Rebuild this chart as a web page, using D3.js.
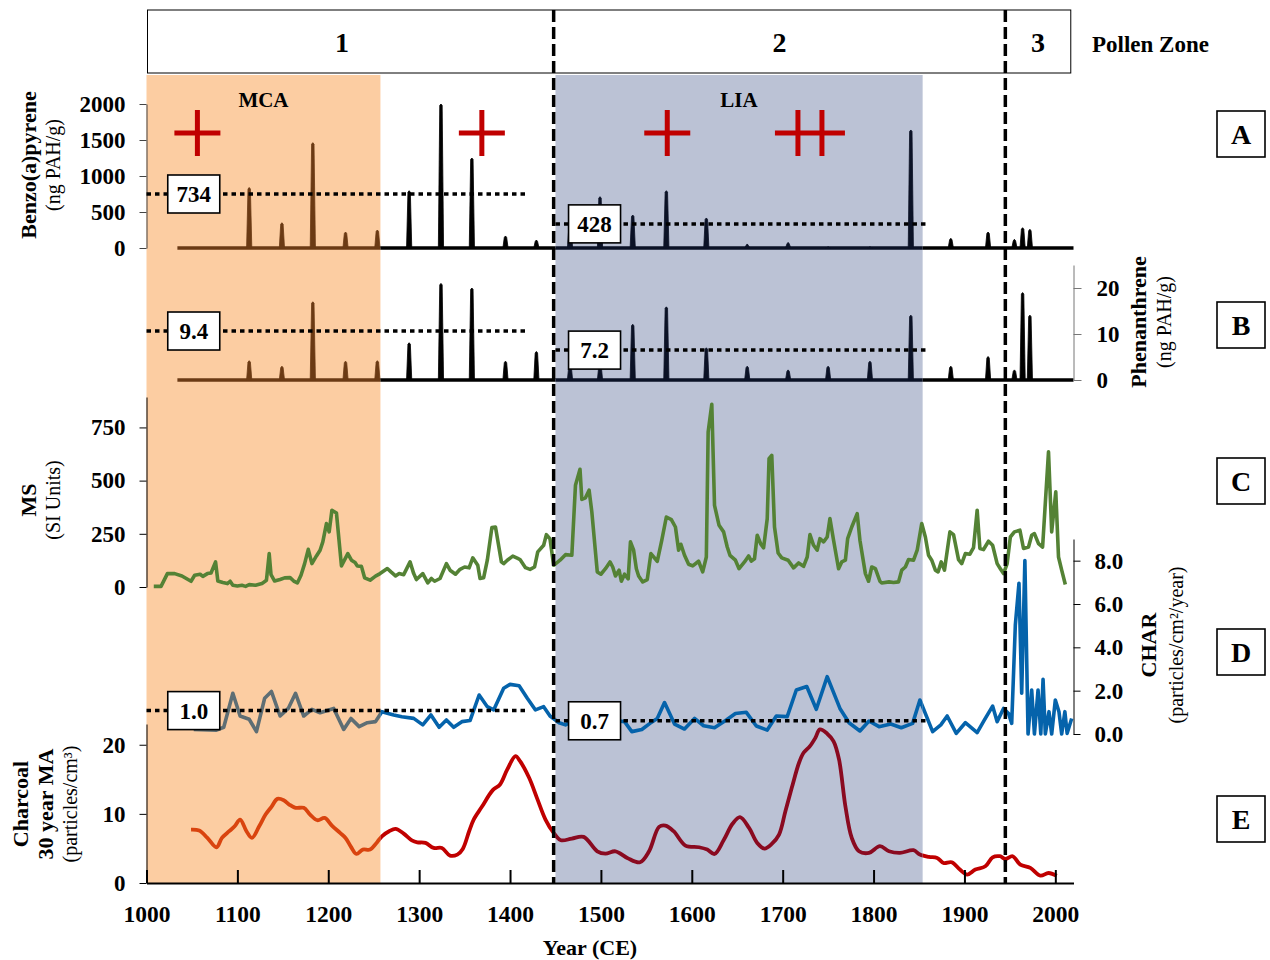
<!DOCTYPE html>
<html><head><meta charset="utf-8">
<script src="https://cdn.jsdelivr.net/npm/d3@7"></script>
<style>
body{margin:0;background:#fff}
svg{display:block}
text{font-family:"Liberation Serif","Times New Roman",serif;fill:#000}
</style>
</head><body>
<svg id="c" width="1270" height="960"></svg>
<script>
// ---------------- DATA ----------------
const zoneNames = ["1", "2", "3"];
const zoneEdges = [1000, 1448, 1945, 2017];
const periodNames = ["MCA", "LIA"];
const periodStart = [1000, 1450];
const periodEnd = [1257.4, 1854];
const crossYears = [1056, 1369, 1573, 1730];
const crossCounts = [1, 1, 1, 2];

const spikeYears = [1113,1149,1183,1219,1254,1289,1324,1358,1395,1429,1466,1499,1535,1572,1616,1661,1706,1750,1796,1841,1885,1926,1955,1964,1972];
const bapValues  = [840,351,1463,222,250,796,2000,1250,167,111,300,713,458,796,417,56,78,20,20,1639,134,222,120,282,259];
const phenValues = [4.2,3.0,17.0,4.1,4.2,8.1,21.0,20.0,4.1,6.2,3.5,3.5,12.1,15.9,7.0,3.0,2.2,3.0,4.1,14.1,3.0,5.1,2.2,19.0,14.1];
const spikeStart = 1034, spikeEnd = 2020;

const msYears = [1008,1016,1023,1031,1039,1049,1053,1059,1062,1067,1071,1076,1078.5,1084,1089,1092,1095,1100,1105,1109,1113,1120,1127,1132,1135,1137,1141,1147,1152,1158,1162,1166,1170,1174,1178,1182,1187,1191,1194,1198,1201,1204,1209,1214.5,1221.5,1225.5,1229.5,1232,1236.5,1240,1246,1252,1257,1265,1269,1274,1278,1283,1290,1294,1297,1304,1309.5,1313.5,1317,1323,1330,1334,1340,1345,1350,1355,1359,1364.5,1367,1371,1375,1380,1384,1390.5,1393,1397,1403,1408.5,1411,1417,1422,1427,1430.5,1437,1440,1444,1448,1455,1461,1468,1472,1477,1479,1483,1487,1490,1496,1500,1505,1510,1513,1516,1520,1522.5,1526,1530,1532.5,1536,1539,1541.5,1546,1551,1555,1562,1567,1572,1577.5,1582,1585.5,1588,1592,1596.5,1601,1607.5,1612,1616,1618,1622,1625,1630,1635,1639,1642,1648,1652,1658,1662.5,1665.5,1669,1672,1676,1679,1683,1685,1688,1691,1695,1699,1706,1712,1717.5,1723,1727,1730,1734,1738,1741,1745,1749,1752,1756,1761.5,1765,1769,1771.5,1776,1782,1785,1791,1794.5,1798,1802,1807,1809,1817,1822,1827.5,1831,1835,1838.5,1844,1848,1853,1857,1860.5,1864,1868,1871,1874.5,1878,1884,1888,1893.5,1897,1901,1906,1910,1914,1917,1921,1926.5,1931,1936,1939.5,1943,1947,1950.5,1955,1961,1965,1970.5,1974,1977,1981.5,1986,1992.5,1996,2000.5,2003.5,2007,2011];
const msValues = [3,3,63,63,52,27,55,60,50,63,66,118,28,21,16,27,8,5,8,3,11,8,16,32,157,58,28,35,43,44,28,19,55,110,177,110,146,173,212,298,259,361,348,99,157,126,115,99,97,43,32,51,63,87,71,52,63,58,118,63,35,63,19,40,27,40,110,79,60,83,94,90,137,102,40,44,126,279,282,118,110,126,145,134,129,91,83,94,165,196,246,226,102,126,152,149,478,553,412,419,455,353,71,60,86,118,94,52,79,27,60,38,212,173,86,52,24,35,157,121,220,329,317,282,173,201,149,107,99,121,71,141,729,859,384,290,259,188,149,126,86,118,146,122,133,243,201,184,321,603,619,282,160,137,126,90,113,97,141,246,196,173,227,212,235,322,220,86,118,126,227,282,345,220,63,27,94,86,27,19,24,21,24,79,94,129,126,173,298,235,149,126,79,71,118,79,259,246,129,110,157,154,185,361,181,176,215,196,110,86,63,110,235,259,267,181,188,243,251,204,188,635,259,447,141,79,12];

const charYears = [1052,1077,1085,1095,1103,1113,1121,1130,1137.5,1147,1156,1164,1173,1182,1191,1206,1217,1225,1234,1243,1252,1259,1272,1281,1294,1304,1313,1322,1330,1338,1347,1356,1366,1375,1382,1393,1400,1410,1419,1428,1437,1444,1454,1461,1467,1490,1516,1526,1534,1545,1554,1562,1570,1581,1592,1603,1613,1625,1638,1648,1660,1671,1683,1693,1705,1715,1726.5,1737,1749,1763,1773,1785,1795,1806,1819,1830.5,1843,1851,1865,1874,1881,1891,1901,1914,1922,1931,1936,1943,1948.5,1952,1956,1960,1963,1966.5,1970,1974,1977,1981,1984,1986.5,1989,1993,1996,2000,2004,2007,2010.5,2013,2018];
const charValues = [0.21,0.18,0.31,1.88,0.83,0.68,0.11,1.65,1.96,0.83,1.18,1.88,0.83,1.14,0.98,1.18,0.21,0.72,0.34,0.52,0.57,1.03,0.88,0.80,0.72,0.42,0.88,0.31,0.65,0.31,0.57,0.62,1.80,1.26,1.11,2.11,2.29,2.23,1.65,1.11,1.26,0.83,0.52,0.42,0.57,0.55,0.61,0.57,0.11,0.21,0.49,0.72,1.45,0.46,0.23,0.72,0.38,0.29,0.65,0.95,1.00,0.37,0.18,0.83,0.80,2.03,2.19,1.14,2.65,1.18,0.52,0.14,0.60,0.34,0.46,0.29,0.49,1.57,0.11,0.42,0.83,0.03,0.52,0.06,0.65,1.29,0.57,1.18,0.95,0.49,5.03,6.96,1.88,8.01,0.0,2.03,0.0,2.03,0.0,2.52,0.0,1.03,0.0,1.57,1.03,0.0,1.03,0.03,0.72];

const coalYears = [1049,1058,1067,1077,1083,1091,1097,1103,1110,1116,1124,1131,1137.5,1144,1151,1157,1164,1173,1180,1188,1196,1204,1213,1219,1225,1231,1238,1246,1254,1259,1267,1274,1283,1292,1298,1307,1316,1325,1334,1342,1348,1355,1360,1369,1381,1389,1397,1406,1411,1421,1430,1439,1448,1456,1468,1481,1496,1505,1516,1529,1543,1553,1564,1571,1580,1593,1608,1617,1625,1635,1645,1653,1663,1672,1680,1688,1696,1703,1710,1718,1723,1730,1736,1741,1749,1756,1762,1769,1776,1784,1795,1807,1817,1829,1844,1851,1861,1870,1877,1886,1895,1903,1912,1923,1931,1939,1945,1953,1961.5,1972.5,1983.5,1992.5,2001.5];
const coalValues = [7.73,7.59,6.52,5.17,6.52,7.49,8.21,9.18,7.49,6.52,8.21,9.9,11.02,12.17,11.98,11.35,10.87,10.87,9.9,9.08,9.42,8.31,7.25,6.52,5.22,4.2,4.83,4.83,5.94,6.76,7.49,7.83,7.15,6.18,5.89,5.8,5.07,5.07,3.96,4.11,4.93,7.49,9.18,11.02,13.43,14.25,16.43,18.36,17.63,15.22,12.17,9.18,7.25,6.18,6.43,6.67,4.59,4.25,4.59,3.63,3.0,4.59,8.12,8.31,7.49,5.41,5.17,4.83,4.2,6.18,8.6,9.52,7.97,5.8,4.98,5.65,7.0,10.39,13.77,17.39,18.84,19.8,21.0,22.22,21.6,20.5,17.87,11.11,6.52,4.59,4.35,5.32,4.59,4.35,4.74,4.11,3.77,3.63,2.9,3.0,1.94,1.21,1.94,2.42,3.72,3.87,3.48,3.87,2.66,2.18,1.06,1.45,1.06];

const meanLabelsA = ["734", "428"], meanLevelsA = [750, 335];
const meanLabelsB = ["9.4", "7.2"], meanLevelsB = [10.65, 6.5];
const meanLabelsD = ["1.0", "0.7"], meanLevelsD = [1.08, 0.61];
const meanSpans = [[1000, 1420], [1450, 1860]];
const meanBoxYears = [1052, 1493];

const xTicks = [1000,1100,1200,1300,1400,1500,1600,1700,1800,1900,2000];
const ticksA = [0,500,1000,1500,2000];
const ticksB = [0,10,20];
const ticksC = [0,250,500,750];
const ticksD = [0,2,4,6,8];
const ticksE = [0,10,20];
const panelLetters = ["A","B","C","D","E"];

// ---------------- LAYOUT ----------------
const W = 1270, H = 960;
const svg = d3.select("#c");
const x = d3.scaleLinear().domain([1000, 2020]).range([146.5, 1073.5]);
const yA = d3.scaleLinear().domain([0, 2000]).range([248, 104]);
const yB = d3.scaleLinear().domain([0, 25]).range([380, 265]);
const yC = d3.scaleLinear().domain([0, 893]).range([587, 397]);
const yD = d3.scaleLinear().domain([0, 9]).range([734, 539]);
const yE = d3.scaleLinear().domain([0, 23]).range([883, 724]);
const shadeTop = 75, shadeBottom = 883;
const letterY = [134, 325, 481, 652, 819];

const regionIds = ["mca", "mid", "lia", "post"];
const bx = [0, x(periodEnd[0]), x(periodStart[1]), x(periodEnd[1]), W];
const defs = svg.append("defs");
regionIds.forEach((id, i) => {
  defs.append("clipPath").attr("id", "clip-" + id).append("rect")
    .attr("x", bx[i]).attr("y", 0).attr("width", bx[i + 1] - bx[i]).attr("height", H);
});
function regional(parent, colors, draw) {
  regionIds.forEach(id => {
    const g = parent.append("g").attr("clip-path", `url(#clip-${id})`);
    draw(g, colors[id]);
  });
}

// shading
const shadeColors = ["#FCCDA2", "#BBC2D5"];
periodNames.forEach((n, i) => {
  svg.append("rect").attr("x", x(periodStart[i])).attr("y", shadeTop)
    .attr("width", x(periodEnd[i]) - x(periodStart[i])).attr("height", shadeBottom - shadeTop)
    .attr("fill", shadeColors[i]);
});

// zone box
svg.append("rect").attr("x", x(zoneEdges[0]) + 1).attr("y", 10)
  .attr("width", x(zoneEdges[3]) - x(zoneEdges[0]) - 1).attr("height", 63)
  .attr("fill", "#fff").attr("stroke", "#000").attr("stroke-width", 1);
zoneNames.forEach((z, i) => {
  svg.append("text").attr("x", (x(zoneEdges[i]) + x(zoneEdges[i + 1])) / 2 - (i === 0 ? 8 : 0))
    .attr("y", 52).attr("text-anchor", "middle").attr("font-size", 28).attr("font-weight", "bold").text(z);
});
svg.append("text").attr("x", 1092).attr("y", 52).attr("font-size", 23).attr("font-weight", "bold").text("Pollen Zone");

// period labels
periodNames.forEach((n, i) => {
  svg.append("text").attr("x", x((periodStart[i] + periodEnd[i]) / 2)).attr("y", 107)
    .attr("text-anchor", "middle").attr("font-size", 21).attr("font-weight", "bold").text(n);
});

const spikeColors = { mca: "#6B3A14", mid: "#000", lia: "#0B1226", post: "#000" };

// ---- Panels A & B ----
function spikePanel(vals, yS) {
  const g = svg.append("g");
  regional(g, spikeColors, (gg, col) => {
    gg.append("line").attr("x1", x(spikeStart)).attr("x2", x(spikeEnd))
      .attr("y1", yS(0)).attr("y2", yS(0)).attr("stroke", col).attr("stroke-width", 3.5);
    gg.selectAll("path.sp").data(spikeYears).join("path")
      .attr("d", (d, i) => {
        const cx = x(d), b = yS(0), t = yS(vals[i]);
        return `M${cx - 2.6},${b} L${cx - 1.2},${t + 1.5} Q${cx},${t - 1.5} ${cx + 1.2},${t + 1.5} L${cx + 2.6},${b} Z`;
      })
      .attr("fill", col).attr("stroke", col).attr("stroke-width", 0.8);
  });
}
spikePanel(bapValues, yA);
spikePanel(phenValues, yB);

// ---- Panel C ----
const lineC = d3.line().x((d, i) => x(msYears[i])).y(d => yC(d));
svg.append("path").attr("d", lineC(msValues)).attr("fill", "none")
  .attr("stroke", "#548235").attr("stroke-width", 3.6).attr("stroke-linejoin", "round");

// ---- Panel D ----
const lineD = d3.line().x((d, i) => x(charYears[i])).y(d => yD(d));
const charColors = { mca: "#5E6E74", mid: "#0563AB", lia: "#0563AB", post: "#0563AB" };
regional(svg.append("g"), charColors, (g, col) => {
  g.append("path").attr("d", lineD(charValues)).attr("fill", "none")
    .attr("stroke", col).attr("stroke-width", 3.6).attr("stroke-linejoin", "round");
});

// ---- Panel E ----
const lineE = d3.line().x((d, i) => x(coalYears[i])).y(d => yE(d)).curve(d3.curveCatmullRom.alpha(0.5));
const coalColors = { mca: "#D9440F", mid: "#C00000", lia: "#8A0A20", post: "#C00000" };
regional(svg.append("g"), coalColors, (g, col) => {
  g.append("path").attr("d", lineE(coalValues)).attr("fill", "none")
    .attr("stroke", col).attr("stroke-width", 3.8).attr("stroke-linejoin", "round");
});

// ---- Axes ----
function styleAxis(g, fs) {
  g.selectAll("text").attr("font-size", fs).attr("font-weight", "bold")
    .attr("font-family", '"Liberation Serif","Times New Roman",serif').attr("fill", "#000");
}
const fmtInt = d3.format("d");
const axA = svg.append("g").attr("transform", `translate(${x(1000)},0)`)
  .call(d3.axisLeft(yA).tickValues(ticksA).tickFormat(fmtInt).tickSize(7).tickPadding(14).tickSizeOuter(0));
styleAxis(axA, 23); axA.selectAll("line,path").attr("stroke", "#444");
const axB = svg.append("g").attr("transform", `translate(${x(2020)},0)`)
  .call(d3.axisRight(yB).tickValues(ticksB).tickFormat(fmtInt).tickSize(8).tickPadding(15).tickSizeOuter(0));
styleAxis(axB, 23); axB.selectAll("line,path").attr("stroke", "#777");
const axC = svg.append("g").attr("transform", `translate(${x(1000)},0)`)
  .call(d3.axisLeft(yC).tickValues(ticksC).tickFormat(fmtInt).tickSize(7).tickPadding(14).tickSizeOuter(0));
styleAxis(axC, 23); axC.selectAll("line,path").attr("stroke", "#000");
const axD = svg.append("g").attr("transform", `translate(${x(2020)},0)`)
  .call(d3.axisRight(yD).tickValues(ticksD).tickFormat(d3.format(".1f")).tickSize(7).tickPadding(14).tickSizeOuter(0));
styleAxis(axD, 23); axD.selectAll("line,path").attr("stroke", "#000");
const axE = svg.append("g").attr("transform", `translate(${x(1000)},0)`)
  .call(d3.axisLeft(yE).tickValues(ticksE).tickFormat(fmtInt).tickSize(7).tickPadding(14).tickSizeOuter(0));
styleAxis(axE, 23); axE.selectAll("line,path").attr("stroke", "#000");
const axX = svg.append("g").attr("transform", `translate(0,${yE(0)})`)
  .call(d3.axisBottom(x).tickValues(xTicks).tickFormat(fmtInt).tickSize(-13).tickPadding(22).tickSizeOuter(0));
styleAxis(axX, 23.5); axX.selectAll("line,path").attr("stroke", "#000").attr("stroke-width", 2);

// ---- Mean lines ----
function meanLines(levels, labels, yS) {
  const g = svg.append("g");
  levels.forEach((v, i) => {
    g.append("line").attr("x1", x(meanSpans[i][0])).attr("x2", x(meanSpans[i][1]))
      .attr("y1", yS(v)).attr("y2", yS(v)).attr("stroke", "#000").attr("stroke-width", 3.5)
      .attr("stroke-dasharray", "4.5,4");
  });
  levels.forEach((v, i) => {
    const cx = x(meanBoxYears[i]), cy = yS(v);
    g.append("rect").attr("x", cx - 26).attr("y", cy - 19).attr("width", 52).attr("height", 38)
      .attr("fill", "#fff").attr("stroke", "#000").attr("stroke-width", 1.6);
    g.append("text").attr("x", cx).attr("y", cy + 8).attr("text-anchor", "middle")
      .attr("font-size", 23).attr("font-weight", "bold").text(labels[i]);
  });
}
meanLines(meanLevelsA, meanLabelsA, yA);
meanLines(meanLevelsB, meanLabelsB, yB);
meanLines(meanLevelsD, meanLabelsD, yD);

// ---- Zone dashed lines ----
[zoneEdges[1], zoneEdges[2]].forEach(yr => {
  svg.append("line").attr("x1", x(yr)).attr("x2", x(yr)).attr("y1", 10).attr("y2", yE(0))
    .attr("stroke", "#000").attr("stroke-width", 3.5).attr("stroke-dasharray", "12,5");
});

// ---- Crosses ----
const crossY = 133;
crossYears.forEach((yr, i) => {
  const cx = x(yr), g = svg.append("g").attr("stroke", "#C00000").attr("stroke-width", 5);
  if (crossCounts[i] === 1) {
    g.append("line").attr("x1", cx - 23).attr("x2", cx + 23).attr("y1", crossY).attr("y2", crossY);
    g.append("line").attr("x1", cx).attr("x2", cx).attr("y1", crossY - 23).attr("y2", crossY + 23);
  } else {
    g.append("line").attr("x1", cx - 35).attr("x2", cx + 35).attr("y1", crossY).attr("y2", crossY);
    [-12, 12].forEach(o => g.append("line").attr("x1", cx + o).attr("x2", cx + o).attr("y1", crossY - 23).attr("y2", crossY + 23));
  }
});

// ---- Panel letters ----
panelLetters.forEach((L, i) => {
  svg.append("rect").attr("x", 1217).attr("y", letterY[i] - 23).attr("width", 48).attr("height", 46)
    .attr("fill", "#fff").attr("stroke", "#000").attr("stroke-width", 1.6);
  svg.append("text").attr("x", 1241).attr("y", letterY[i] + 10).attr("text-anchor", "middle")
    .attr("font-size", 28).attr("font-weight", "bold").text(L);
});

// ---- Titles ----
function vText(cx, cy, txt, bold, fs) {
  svg.append("text").attr("transform", `translate(${cx},${cy}) rotate(-90)`)
    .attr("text-anchor", "middle").attr("dominant-baseline", "central")
    .attr("font-size", fs).attr("font-weight", bold ? "bold" : "normal").text(txt);
}
vText(28, 165, "Benzo(a)pyrene", true, 22);
vText(53, 165, "(ng PAH/g)", false, 20);
vText(28, 500, "MS", true, 22);
vText(53, 500, "(SI Units)", false, 20);
vText(20, 804, "Charcoal", true, 22);
vText(45, 804, "30 year MA", true, 22);
vText(70, 804, "(particles/cm³)", false, 20);
vText(1138, 322, "Phenanthrene", true, 22);
vText(1164, 322, "(ng PAH/g)", false, 20);
vText(1148, 645, "CHAR", true, 22);
vText(1176, 645, "(particles/cm²/year)", false, 20);

svg.append("text").attr("x", 590).attr("y", 955).attr("text-anchor", "middle")
  .attr("font-size", 22).attr("font-weight", "bold").text("Year (CE)");
</script>
</body></html>
